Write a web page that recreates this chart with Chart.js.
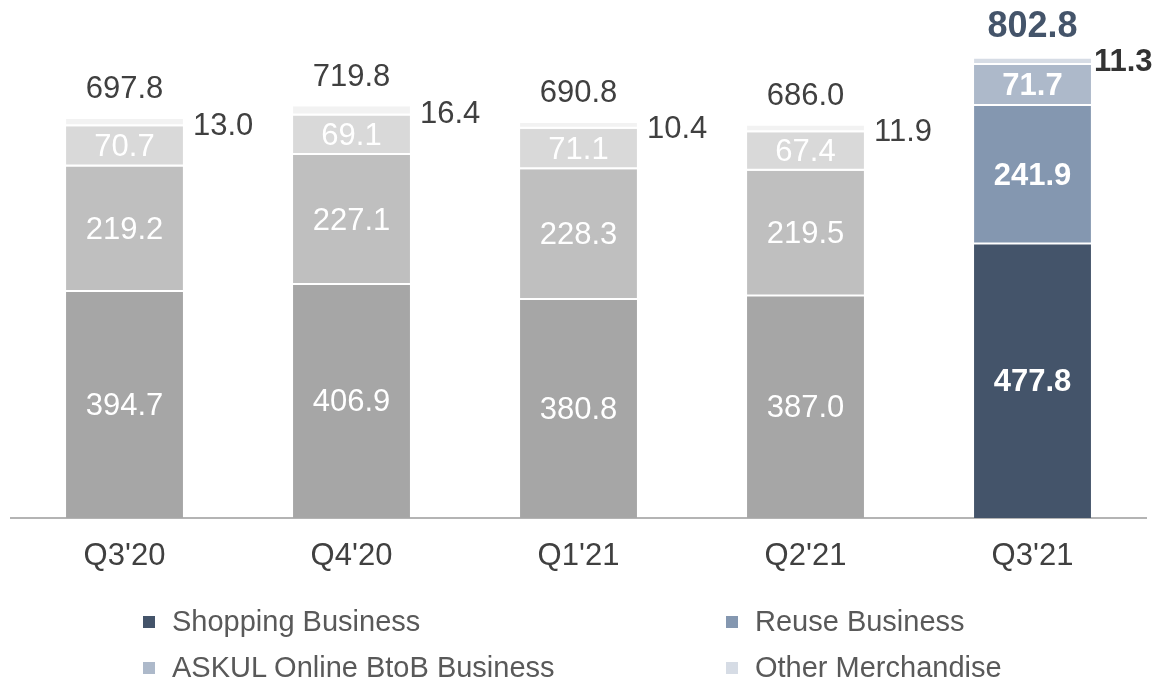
<!DOCTYPE html>
<html>
<head>
<meta charset="utf-8">
<script src="https://cdn.jsdelivr.net/npm/chart.js@4/dist/chart.umd.min.js"></script>
<style>
  html, body { margin: 0; padding: 0; background: #fff; }
  #wrap { position: relative; width: 1153px; height: 684px; font-family: "Liberation Sans", Arial, sans-serif; }
  #c { position: absolute; left: 0; top: 0; }
  .lg { position: absolute; font-size: 29px; line-height: 34px; color: #595959; white-space: nowrap; }
  .mk { position: absolute; width: 12px; height: 12px; }
</style>
</head>
<body>
<div id="wrap">
  <canvas id="c" width="1153" height="684"></canvas>
  <div id="legend"></div>
</div>
<script>
const categories = ["Q3'20", "Q4'20", "Q1'21", "Q2'21", "Q3'21"];
const shopping = [394.7, 406.9, 380.8, 387.0, 477.8];
const reuse = [219.2, 227.1, 228.3, 219.5, 241.9];
const askul = [70.7, 69.1, 71.1, 67.4, 71.7];
const other = [13.0, 16.4, 10.4, 11.9, 11.3];
const totals = [697.8, 719.8, 690.8, 686.0, 802.8];
const seriesNames = ["Shopping Business", "Reuse Business", "ASKUL Online BtoB Business", "Other Merchandise"];

const highlight = ["#44546a", "#8497b0", "#adb9ca", "#d6dce5"];
const greys = ["#a6a6a6", "#bfbfbf", "#d9d9d9", "#f2f2f2"];
const colorsFor = (i) => categories.map((c, j) => j === categories.length - 1 ? highlight[i] : greys[i]);

const FONT = "'Liberation Sans', Arial, sans-serif";

const labelPlugin = {
  id: 'labels',
  afterDatasetsDraw(chart) {
    const ctx = chart.ctx;
    const last = categories.length - 1;
    ctx.save();
    for (let d = 0; d < 3; d++) {
      const meta = chart.getDatasetMeta(d);
      meta.data.forEach((el, i) => {
        const v = chart.data.datasets[d].data[i];
        ctx.font = (i === last ? 'bold ' : '') + '31px ' + FONT;
        ctx.fillStyle = '#ffffff';
        ctx.textAlign = 'center';
        ctx.textBaseline = 'middle';
        ctx.fillText(v.toFixed(1), el.x, (el.y + el.base) / 2 + 1);
      });
    }
    const om = chart.getDatasetMeta(3);
    om.data.forEach((el, i) => {
      const v = other[i];
      ctx.font = (i === last ? 'bold ' : '') + '31px ' + FONT;
      ctx.fillStyle = i === last ? '#333333' : '#404040';
      ctx.textAlign = 'left';
      ctx.textBaseline = 'middle';
      const off = i === last ? 3 : 10;
      ctx.fillText(v.toFixed(1), el.x + el.width / 2 + off, (el.y + el.base) / 2 + (i === last ? 1 : 4));
      // totals
      ctx.textAlign = 'center';
      if (i === last) {
        ctx.font = 'bold 36px ' + FONT;
        ctx.fillStyle = '#44546a';
        ctx.fillText(totals[i].toFixed(1), el.x, el.y - 31);
      } else {
        ctx.font = '31px ' + FONT;
        ctx.fillStyle = '#404040';
        ctx.fillText(totals[i].toFixed(1), el.x, el.y - 29);
      }
    });
    ctx.restore();
  }
};

const seriesData = [shopping, reuse, askul, other];
const datasets = seriesData.map((arr, i) => ({
  label: seriesNames[i],
  data: arr,
  backgroundColor: colorsFor(i),
  borderColor: '#ffffff',
  borderWidth: i === 0 ? 0 : { top: 0, bottom: 2, left: 0, right: 0 },
  borderSkipped: false,
  categoryPercentage: 1,
  barPercentage: 0.515
}));

new Chart(document.getElementById('c'), {
  type: 'bar',
  data: { labels: categories, datasets },
  options: {
    responsive: false,
    animation: false,
    layout: { padding: { left: 11, right: 7, top: 0, bottom: 0 } },
    plugins: { legend: { display: false }, tooltip: { enabled: false } },
    scales: {
      x: {
        stacked: true,
        grid: { display: false, drawTicks: false },
        border: { display: true, color: '#b4b4b4', width: 2 },
        ticks: { color: '#404040', font: { family: FONT, size: 31 }, padding: 20 },
        afterFit(scale) { scale.height = 684 - 518; }
      },
      y: {
        stacked: true,
        display: false,
        min: 0,
        max: 905
      }
    }
  },
  plugins: [labelPlugin]
});

// HTML legend
const legendPos = [
  { mx: 143, tx: 172, cy: 621 },
  { mx: 726, tx: 755, cy: 621 },
  { mx: 143, tx: 172, cy: 667 },
  { mx: 726, tx: 755, cy: 667 }
];
const lg = document.getElementById('legend');
seriesNames.forEach((name, i) => {
  const p = legendPos[i];
  const m = document.createElement('div');
  m.className = 'mk';
  m.style.left = p.mx + 'px';
  m.style.top = (p.cy - 5) + 'px';
  m.style.background = highlight[i];
  lg.appendChild(m);
  const t = document.createElement('div');
  t.className = 'lg';
  t.style.left = p.tx + 'px';
  t.style.top = (p.cy - 17) + 'px';
  t.textContent = name;
  lg.appendChild(t);
});
</script>
</body>
</html>
